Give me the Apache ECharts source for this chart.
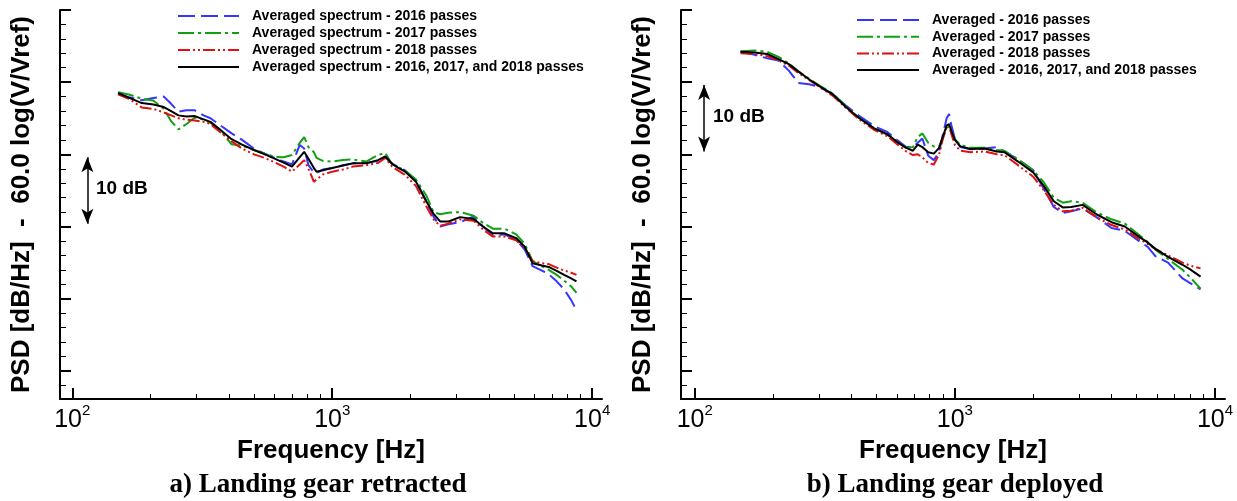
<!DOCTYPE html>
<html>
<head>
<meta charset="utf-8">
<script src="https://cdn.jsdelivr.net/npm/echarts@6/dist/echarts.min.js"></script>
<style>
  html, body { margin: 0; padding: 0; background: #fff; }
  #chart { width: 1237px; height: 501px; }
</style>
</head>
<body>
<div id="chart"></div>
<script>
// a) landing gear retracted
const freqL = [150, 165, 185, 205, 225, 240, 256, 275, 296, 320, 340, 370, 410, 450, 500, 550, 600, 650, 700, 750,
  780, 810, 850, 870, 920, 1000, 1100, 1200, 1350, 1500, 1600, 1700, 1800, 1900, 2100, 2300, 2450, 2600, 2800, 3100,
  3500, 3800, 4150, 4600, 5100, 5500, 5900, 6400, 6800, 7300, 7800, 8300, 8700];
const blueL = [48.4, 47.9, 47.5, 47.8, 48.0, 47.0, 45.9, 46.1, 46.1, 45.4, 45.0, 44.05, 42.9, 42.0, 40.8, 40.1, 39.5, 39.0, 38.6, 41.3,
  40.8, 38.5, 37.5, 37.4, 37.9, 38.1, 38.5, 38.75, 38.8, 39.1, 39.6, 38.7, 38.2, 37.8, 36.3, 33.5, 31.4, 30.0, 30.3, 30.6,
  31.4, 30.0, 28.8, 28.9, 28.2, 26.8, 24.5, 23.9, 23.4, 22.4, 21.3, 19.8, 18.4];
const greenL = [48.6, 48.3, 47.7, 47.45, 46.3, 44.6, 43.45, 44.2, 45.1, 44.8, 44.4, 43.3, 41.4, 41.2, 40.6, 40.1, 39.65, 39.6, 39.9, 41.6,
  42.4, 41.0, 40.3, 39.5, 39.1, 39.0, 39.2, 39.3, 39.0, 39.9, 40.2, 38.6, 38.2, 37.8, 36.5, 34.3, 32.0, 31.7, 31.9, 32.0,
  31.5, 30.5, 29.7, 29.7, 28.9, 27.6, 25.2, 24.5, 24.0, 23.3, 22.5, 21.7, 20.8];
const redL = [48.3, 47.7, 46.5, 46.3, 45.8, 45.4, 45.0, 44.8, 44.7, 44.5, 44.2, 43.1, 41.8, 40.8, 40.0, 39.5, 38.9, 38.3, 37.6, 38.6,
  39.2, 38.0, 36.2, 36.5, 37.2, 37.6, 37.9, 38.3, 38.5, 38.8, 39.5, 38.3, 37.7, 37.2, 35.6, 32.8, 31.0, 30.1, 30.4, 31.0,
  30.8, 29.6, 28.6, 28.6, 28.1, 27.0, 25.2, 24.9, 24.8, 24.3, 23.9, 23.6, 23.3];
const blackL = [48.5, 47.85, 47.1, 46.9, 46.55, 46.0, 45.4, 45.25, 45.3, 44.85, 44.5, 43.45, 42.1, 41.35, 40.6, 40.0, 39.4, 38.85, 38.3, 39.6,
  40.35, 39.4, 38.1, 37.6, 37.8, 38.1, 38.45, 38.75, 38.75, 39.2, 39.7, 38.7, 38.1, 37.65, 36.2, 33.5, 31.8, 30.7, 30.7, 31.3,
  31.05, 30.0, 29.05, 29.05, 28.4, 27.2, 24.9, 24.6, 24.4, 23.85, 23.3, 22.8, 22.4];

// b) landing gear deployed
const freqR = [150, 170, 190, 210, 230, 250, 275, 300, 340, 380, 430, 490, 550, 600, 650, 690, 720, 750, 790, 830,
  870, 900, 930, 950, 970, 1000, 1050, 1150, 1300, 1450, 1550, 1750, 2000, 2200, 2400, 2600, 2800, 3100, 3500, 4000,
  4500, 5000, 5500, 5900, 6600, 7500, 8000, 8800];
const blueR = [54.2, 53.8, 53.3, 53.0, 51.6, 49.9, 49.7, 49.4, 48.3, 46.8, 45.3, 43.9, 43.1, 42.0, 41.0, 41.0, 41.6, 42.2, 39.8, 39.2,
  40.3, 42.8, 45.0, 45.6, 44.0, 42.2, 41.0, 40.7, 40.8, 41.0, 40.4, 39.3, 37.8, 35.2, 32.7, 31.9, 32.1, 32.5, 31.3, 29.8,
  29.4, 28.2, 27.2, 25.9, 25.0, 22.8, 22.2, 21.3];
const greenR = [54.3, 54.4, 54.2, 53.5, 52.6, 51.5, 50.5, 49.6, 48.4, 46.7, 45.0, 43.6, 42.7, 41.8, 40.9, 41.0, 42.4, 42.9, 41.6, 41.1,
  41.1, 42.3, 43.7, 43.8, 43.0, 42.1, 41.3, 40.9, 40.9, 40.6, 40.5, 39.3, 37.8, 36.1, 34.0, 33.3, 33.5, 33.3, 32.0, 31.0,
  30.4, 29.1, 27.9, 26.8, 25.5, 24.0, 23.0, 21.4];
const redR = [54.0, 53.9, 53.6, 53.0, 52.3, 51.3, 50.3, 49.4, 48.1, 46.5, 44.8, 43.4, 42.5, 41.4, 40.4, 39.9, 40.0, 39.6, 38.8, 38.6,
  40.0, 42.2, 43.8, 44.0, 42.8, 41.3, 40.5, 40.3, 40.4, 40.0, 39.9, 38.5, 36.9, 35.0, 33.0, 32.1, 32.2, 32.6, 31.3, 30.2,
  29.6, 28.5, 27.6, 26.9, 26.0, 25.0, 24.6, 24.2];
const blackR = [54.2, 54.1, 53.9, 53.2, 52.5, 51.5, 50.4, 49.5, 48.3, 46.6, 45.0, 43.6, 42.8, 41.7, 40.9, 40.5, 41.35, 41.0, 40.3, 40.1,
  40.9, 42.5, 44.0, 44.2, 43.2, 42.0, 41.1, 40.75, 40.8, 40.4, 40.3, 39.0, 37.5, 35.6, 33.5, 32.65, 32.7, 33.0, 31.7, 30.6,
  30.0, 28.8, 27.8, 26.9, 25.8, 24.7, 24.1, 23.05];

const namesL = ['Averaged spectrum - 2016 passes', 'Averaged spectrum - 2017 passes',
  'Averaged spectrum - 2018 passes', 'Averaged spectrum - 2016, 2017, and 2018 passes'];
const namesR = ['Averaged - 2016 passes', 'Averaged - 2017 passes',
  'Averaged - 2018 passes', 'Averaged - 2016, 2017, and 2018 passes'];

// ticks: x axis runs in log10(Hz)
const majorX = [2, 3, 4];
const minorHz = [200, 300, 400, 500, 600, 700, 800, 900, 2000, 3000, 4000, 5000, 6000, 7000, 8000, 9000];
const majorY = [10, 20, 30, 40, 50, 60];
const minorY = [8, 12, 14, 16, 18, 22, 24, 26, 28, 32, 34, 36, 38, 42, 44, 46, 48, 52, 54, 56, 58];

const font = 'Liberation Sans';
const colors = ['#3535ff', '#12a012', '#e01010', '#000000'];
const dashes = [[17, 6], [16, 4, 3, 4], [12, 3, 2, 3, 2, 3], 'solid'];

const chart = echarts.init(document.getElementById('chart'));

function pts(freq, vals) {
  return freq.map((f, i) => [Math.log10(f), vals[i]]);
}

function xAxes(grid, min, max) {
  return [
    {
      type: 'value', gridIndex: grid, min: min, max: max, position: 'bottom',
      name: 'Frequency [Hz]', nameLocation: 'middle', nameGap: 33,
      nameTextStyle: { fontFamily: font, fontWeight: 'bold', fontSize: 26, color: '#000' },
      axisLine: { lineStyle: { color: '#000', width: 2 } },
      axisTick: { customValues: majorX, inside: true, length: 11, lineStyle: { color: '#000', width: 2 } },
      axisLabel: {
        customValues: majorX, margin: 4,
        formatter: v => '{b|10}{s|' + Math.round(v) + '}',
        rich: {
          b: { fontFamily: font, fontSize: 25, color: '#000', verticalAlign: 'bottom', lineHeight: 30 },
          s: { fontFamily: font, fontSize: 15, color: '#000', verticalAlign: 'top', lineHeight: 30 }
        }
      },
      splitLine: { show: false }
    },
    {
      type: 'value', gridIndex: grid, min: min, max: max, position: 'bottom',
      axisLine: { show: false },
      axisTick: { customValues: minorHz.map(f => Math.log10(f)), inside: true, length: 5, lineStyle: { color: '#000', width: 1 } },
      axisLabel: { show: false },
      splitLine: { show: false }
    }
  ];
}

function yAxes(grid) {
  return [
    {
      type: 'value', gridIndex: grid, min: 6.1, max: 60, position: 'left',
      name: 'PSD [dB/Hz]  -  60.0 log(V/Vref)', nameLocation: 'middle', nameGap: 25,
      nameTextStyle: { fontFamily: font, fontWeight: 'bold', fontSize: 26, color: '#000' },
      axisLine: { show: true, lineStyle: { color: '#000', width: 2 } },
      axisTick: { show: true, customValues: majorY, inside: true, length: 11, lineStyle: { color: '#000', width: 2 } },
      axisLabel: { show: false },
      splitLine: { show: false }
    },
    {
      type: 'value', gridIndex: grid, min: 6.1, max: 60, position: 'left',
      axisLine: { show: false },
      axisTick: { show: true, customValues: minorY, inside: true, length: 6, lineStyle: { color: '#000', width: 1 } },
      axisLabel: { show: false },
      splitLine: { show: false }
    }
  ];
}

function makeSeries(names, freq, sets, xi, arrowX, arrowY) {
  return sets.map((vals, k) => {
    const s = {
      type: 'line', name: names[k], xAxisIndex: xi, yAxisIndex: xi,
      data: pts(freq, vals), symbol: 'none', silent: true,
      lineStyle: { color: colors[k], width: 2, type: dashes[k] },
      itemStyle: { color: colors[k] },
      emphasis: { disabled: true }, z: 2 + k
    };
    if (k === 3) {
      s.markLine = {
        silent: true, symbol: ['arrow', 'arrow'], symbolSize: [9, 15],
        lineStyle: { color: '#000', width: 1.5, type: 'solid' },
        label: { show: false },
        data: [[{ coord: [arrowX, arrowY[0]] }, { coord: [arrowX, arrowY[1]] }]]
      };
    }
    return s;
  });
}

const legendText = { fontFamily: font, fontWeight: 'bold', fontSize: 14, color: '#000', padding: [0, 0, 0, 8] };

chart.setOption({
  animation: false,
  backgroundColor: '#fff',
  grid: [
    { left: 60, top: 10, width: 542, height: 389 },
    { left: 681, top: 10, width: 544, height: 389 }
  ],
  xAxis: [...xAxes(0, 1.9527, 4.0377), ...xAxes(1, 1.9473, 4.0384)],
  yAxis: [...yAxes(0), ...yAxes(1)],
  legend: [
    { data: namesL, orient: 'vertical', left: 177, top: 9, padding: 0, itemWidth: 61, itemHeight: 14, itemGap: 3,
      selectedMode: false, itemStyle: { opacity: 0 }, textStyle: legendText },
    { data: namesR, orient: 'vertical', left: 856, top: 13, padding: 0, itemWidth: 62, itemHeight: 14, itemGap: 2.7,
      selectedMode: false, itemStyle: { opacity: 0 }, textStyle: legendText }
  ],
  series: [
    ...makeSeries(namesL, freqL, [blueL, greenL, redL, blackL], 0, 2.058, [39.6, 30.4]),
    ...makeSeries(namesR, freqR, [blueR, greenR, redR, blackR], 2, 2.036, [49.6, 40.4])
  ],
  graphic: [
    { type: 'text', x: 96, y: 189, style: { text: '10 dB', fontFamily: font, fontWeight: 'bold', fontSize: 19, fill: '#000', verticalAlign: 'middle' } },
    { type: 'text', x: 713, y: 117, style: { text: '10 dB', fontFamily: font, fontWeight: 'bold', fontSize: 19, fill: '#000', verticalAlign: 'middle' } },
    { type: 'text', x: 318, y: 485, style: { text: 'a) Landing gear retracted', fontFamily: 'Liberation Serif', fontWeight: 'bold', fontSize: 27, fill: '#000', align: 'center', verticalAlign: 'middle' } },
    { type: 'text', x: 955, y: 485, style: { text: 'b) Landing gear deployed', fontFamily: 'Liberation Serif', fontWeight: 'bold', fontSize: 27, fill: '#000', align: 'center', verticalAlign: 'middle' } }
  ]
});
</script>
</body>
</html>
